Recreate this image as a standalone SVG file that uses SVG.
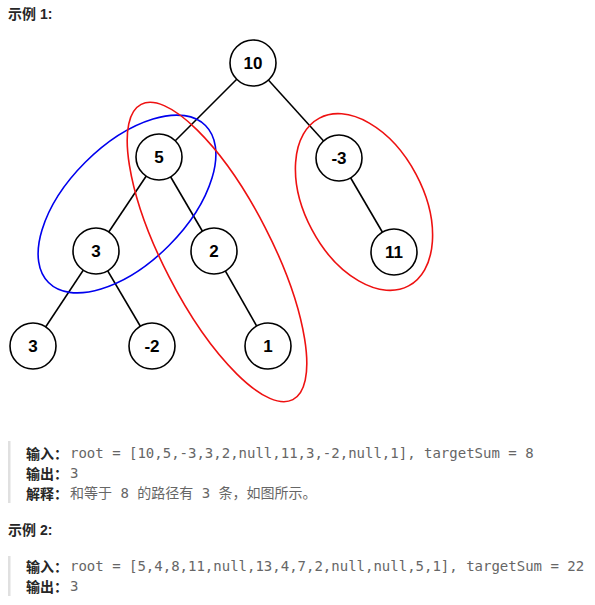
<svg xmlns="http://www.w3.org/2000/svg" width="595" height="605" viewBox="0 0 595 605">
<style>
.n circle{fill:#fff;stroke:#000;stroke-width:1.6}
.n text{font-family:"Liberation Sans",Arial,sans-serif;font-weight:bold;font-size:17px;text-anchor:middle;fill:#000}
.e line{stroke:#000;stroke-width:1.6}
.ring{fill:none;stroke-width:1.6}
.h{font-family:"Liberation Sans","Noto Sans CJK SC",sans-serif;font-weight:bold;font-size:14px;fill:#262626}
.lb{font-family:"Noto Sans CJK SC",sans-serif;font-weight:bold;font-size:14px;fill:#262626}
.cd{font-family:"DejaVu Sans Mono","Noto Sans CJK SC",monospace;font-size:14px;fill:#666}
.bar{fill:#e0e0e0}
</style>
<rect width="595" height="605" fill="#fff"/>
<text class="h" x="8" y="19">示例 1:</text>
<g id="connectors" class="e">
<line x1="253" y1="63" x2="159" y2="157"/>
<line x1="253" y1="63" x2="339" y2="158"/>
<line x1="159" y1="157" x2="96" y2="251"/>
<line x1="159" y1="157" x2="214" y2="251"/>
<line x1="339" y1="158" x2="394" y2="252"/>
<line x1="96" y1="251" x2="33" y2="346"/>
<line x1="96" y1="251" x2="152" y2="346"/>
<line x1="214" y1="251" x2="268" y2="346"/>
</g>
<g id="n10" class="n"><circle cx="253" cy="63" r="23"/><text x="253" y="69">10</text></g>
<g id="n5" class="n"><circle cx="159" cy="157" r="23"/><text x="159" y="163">5</text></g>
<g id="nm3" class="n"><circle cx="339" cy="158" r="23"/><text x="339" y="164">-3</text></g>
<g id="n3a" class="n"><circle cx="96" cy="251" r="23"/><text x="96" y="257">3</text></g>
<g id="n2" class="n"><circle cx="214" cy="251" r="23"/><text x="214" y="257">2</text></g>
<g id="n11" class="n"><circle cx="394" cy="252" r="23"/><text x="394" y="258">11</text></g>
<g id="n3b" class="n"><circle cx="33" cy="346" r="23"/><text x="33" y="352">3</text></g>
<g id="nm2" class="n"><circle cx="152" cy="346" r="23"/><text x="152" y="352">-2</text></g>
<g id="n1" class="n"><circle cx="268" cy="346" r="23"/><text x="268" y="352">1</text></g>
<g id="rings">
<ellipse class="ring" stroke="#0000ee" cx="127" cy="204" rx="111" ry="59" transform="rotate(-45 127 204)"/>
<ellipse class="ring" stroke="#ee1111" cx="217" cy="252" rx="166" ry="54" transform="rotate(62.8 217 252)"/>
<ellipse class="ring" stroke="#ee1111" cx="364" cy="202" rx="95" ry="59" transform="rotate(62 364 202)"/>
</g>
<rect class="bar" x="8" y="441" width="2.5" height="62"/>
<text class="lb" x="26" y="459">输入：</text>
<text class="cd" x="70" y="458">root = [10,5,-3,3,2,null,11,3,-2,null,1], targetSum = 8</text>
<text class="lb" x="26" y="479">输出：</text>
<text class="cd" x="70" y="478">3</text>
<text class="lb" x="26" y="499">解释：</text>
<text class="cd" x="70" y="498">和等于 8 的路径有 3 条，如图所示。</text>
<text class="h" x="8" y="535">示例 2:</text>
<rect class="bar" x="8" y="556" width="2.5" height="40"/>
<text class="lb" x="26" y="572">输入：</text>
<text class="cd" x="70" y="571">root = [5,4,8,11,null,13,4,7,2,null,null,5,1], targetSum = 22</text>
<text class="lb" x="26" y="592">输出：</text>
<text class="cd" x="70" y="591">3</text>
</svg>
